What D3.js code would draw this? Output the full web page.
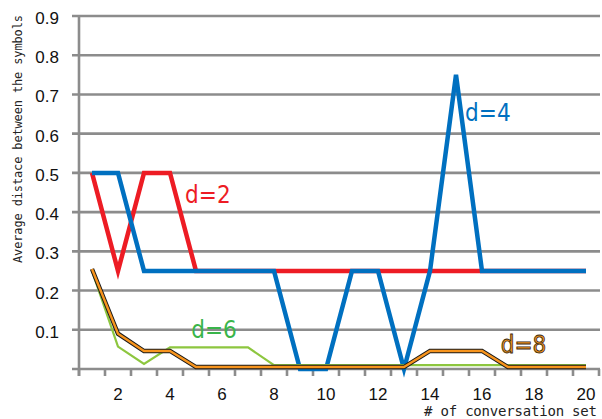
<!DOCTYPE html>
<html lang="en">
<head>
  <meta charset="utf-8"/>
  <title>Average distance chart</title>
  <script src="https://cdnjs.cloudflare.com/ajax/libs/d3/7.8.5/d3.min.js"></script>
  <style>
    body { margin: 0; background: #fff; }
    svg { display: block; }
    .tick-label { font-family: "Liberation Sans", Arial, sans-serif; font-size: 17px; fill: #111; }
    .mono { font-family: "DejaVu Sans Mono", monospace; fill: #222; }
    .series-label { font-family: "DejaVu Sans Condensed", "DejaVu Sans", sans-serif; font-stretch: condensed; font-size: 24px; }
  </style>
</head>
<body>
<svg id="chart" width="602" height="419"></svg>
<script>
  var sets = d3.range(1, 21);
  var d2 = [0.5, 0.25, 0.5, 0.5, 0.25, 0.25, 0.25, 0.25, 0.25, 0.25, 0.25, 0.25, 0.25, 0.25, 0.25, 0.25, 0.25, 0.25, 0.25, 0.25];
  var d4 = [0.5, 0.5, 0.25, 0.25, 0.25, 0.25, 0.25, 0.25, 0, 0, 0.25, 0.25, 0, 0.25, 0.75, 0.25, 0.25, 0.25, 0.25, 0.25];
  var d6 = [0.25, 0.057, 0.013, 0.055, 0.055, 0.055, 0.055, 0.01, 0.01, 0.01, 0.01, 0.01, 0.01, 0.01, 0.01, 0.01, 0.01, 0.01, 0.01, 0.01];
  var d8 = [0.255, 0.09, 0.046, 0.046, 0.005, 0.005, 0.005, 0.005, 0.005, 0.005, 0.005, 0.005, 0.005, 0.046, 0.046, 0.046, 0.005, 0.005, 0.005, 0.005];
  var yTicks = [0.1, 0.2, 0.3, 0.4, 0.5, 0.6, 0.7, 0.8, 0.9];
  var xLabels = [2, 4, 6, 8, 10, 12, 14, 16, 18, 20];

  var svg = d3.select("#chart");
  var x = d3.scaleBand().domain(sets).range([79, 599]).padding(0);
  var y = d3.scaleLinear().domain([0, 0.9]).range([369, 16]);
  var cx = function(i) { return x(i) + x.bandwidth() / 2; };

  // grid lines (they also act as y ticks)
  svg.append("g").selectAll("line")
    .data([0].concat(yTicks))
    .enter().append("line")
    .attr("x1", 72).attr("x2", 600)
    .attr("y1", d => y(d)).attr("y2", d => y(d))
    .attr("stroke", "#8c8c8c").attr("stroke-width", 2.6);

  svg.append("g").selectAll("text")
    .data(yTicks)
    .enter().append("text")
    .attr("class", "tick-label")
    .attr("x", 59).attr("y", d => y(d) + 8)
    .attr("text-anchor", "end")
    .text(d => d.toFixed(1));

  // y axis line
  svg.append("line")
    .attr("x1", 79).attr("x2", 79).attr("y1", y(0.9) + 1).attr("y2", 376)
    .attr("stroke", "#8c8c8c").attr("stroke-width", 2.6);

  // x ticks on the band boundaries
  svg.append("g").selectAll("line")
    .data(sets.concat([21]))
    .enter().append("line")
    .attr("x1", d => d <= 20 ? x(d) : x(20) + x.bandwidth())
    .attr("x2", d => d <= 20 ? x(d) : x(20) + x.bandwidth())
    .attr("y1", 369).attr("y2", 376)
    .attr("stroke", "#8c8c8c").attr("stroke-width", 2.6);

  svg.append("g").selectAll("text")
    .data(xLabels)
    .enter().append("text")
    .attr("class", "tick-label")
    .attr("x", d => cx(d)).attr("y", 400)
    .attr("text-anchor", "middle")
    .text(d => d);

  // axis titles
  svg.append("text")
    .attr("class", "mono")
    .attr("transform", "translate(22,139) rotate(-90)")
    .attr("text-anchor", "middle")
    .attr("font-size", 12)
    .attr("textLength", 248).attr("lengthAdjust", "spacing")
    .text("Average distace between the symbols");

  svg.append("text")
    .attr("class", "mono")
    .attr("x", 424).attr("y", 416)
    .attr("font-size", 14)
    .attr("textLength", 173).attr("lengthAdjust", "spacing")
    .text("# of conversation set");

  var line = d3.line().x((d, i) => cx(sets[i])).y(d => y(d));

  svg.append("path").datum(d2).attr("d", line)
    .attr("fill", "none").attr("stroke", "#ed1c24").attr("stroke-width", 4.5);
  svg.append("path").datum(d4).attr("d", line)
    .attr("fill", "none").attr("stroke", "#0070c0").attr("stroke-width", 4.5);
  svg.append("path").datum(d6).attr("d", line)
    .attr("fill", "none").attr("stroke", "#8dc63f").attr("stroke-width", 2.2);
  svg.append("path").datum(d8).attr("d", line)
    .attr("fill", "none").attr("stroke", "#1a1a1a").attr("stroke-width", 4.4);
  svg.append("path").datum(d8).attr("d", line)
    .attr("fill", "none").attr("stroke", "#f7941d").attr("stroke-width", 2.4);

  // series labels, placed in data units
  var labels = [
    { t: "d=2", set: 4.58, v: 0.423, c: "#ed1c24" },
    { t: "d=4", set: 15.35, v: 0.633, c: "#0070c0" },
    { t: "d=6", set: 4.82, v: 0.079, c: "#39b54a" },
    { t: "d=8", set: 16.72, v: 0.041, c: "#f7941d", outline: true }
  ];
  svg.append("g").selectAll("text")
    .data(labels)
    .enter().append("text")
    .attr("class", "series-label")
    .attr("x", d => x(1) + (d.set - 1) * x.bandwidth() + x.bandwidth() / 2)
    .attr("y", d => y(d.v))
    .attr("fill", d => d.c)
    .attr("stroke", d => d.outline ? "#3a2a10" : "none")
    .attr("stroke-width", 0.8)
    .text(d => d.t);
</script>
</body>
</html>
